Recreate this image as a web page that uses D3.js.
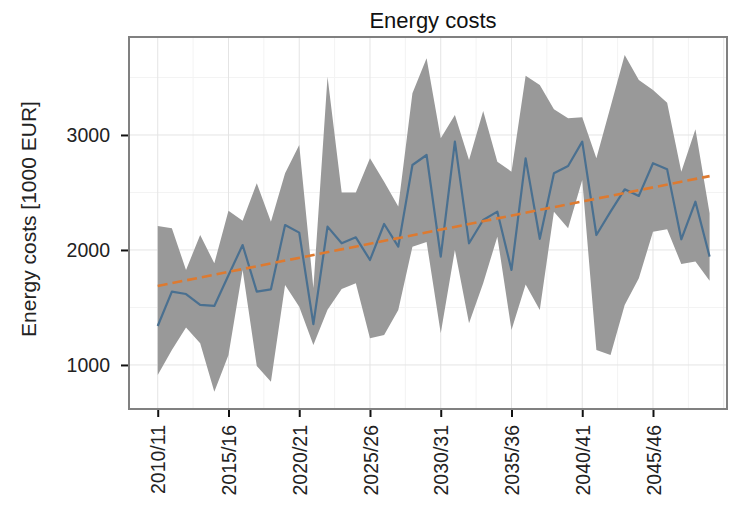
<!DOCTYPE html>
<html>
<head>
<meta charset="utf-8">
<script src="https://cdn.jsdelivr.net/npm/d3@7"></script>
<style>
  html, body { margin: 0; padding: 0; background: #ffffff; }
  svg { display: block; font-family: "Liberation Sans", Arial, sans-serif; }
</style>
</head>
<body>
<svg id="chart" width="731" height="508"></svg>
<script>
// Seasons on the x axis
const seasons = [
  "2010/11","2011/12","2012/13","2013/14","2014/15","2015/16","2016/17","2017/18",
  "2018/19","2019/20","2020/21","2021/22","2022/23","2023/24","2024/25","2025/26",
  "2026/27","2027/28","2028/29","2029/30","2030/31","2031/32","2032/33","2033/34",
  "2034/35","2035/36","2036/37","2037/38","2038/39","2039/40","2040/41","2041/42",
  "2042/43","2043/44","2044/45","2045/46","2046/47","2047/48","2048/49","2049/50"
];

// Mean energy costs per season [1000 EUR]
const meanCost = [
  1339, 1638, 1617, 1522, 1513, 1780, 2043, 1638, 1658, 2217,
  2151, 1355, 2203, 2058, 2110, 1913, 2226, 2029, 2739, 2826,
  1942, 2942, 2058, 2261, 2333, 1826, 2797, 2097, 2667, 2730,
  2942, 2130, 2333, 2527, 2470, 2754, 2701, 2093, 2420, 1942
];

// Upper and lower bounds of the spread
const upperCost = [
  2209, 2188, 1826, 2130, 1884, 2342, 2255, 2580, 2246, 2667,
  2913, 1670, 3507, 2499, 2499, 2797, 2594, 2377, 3362, 3667,
  2971, 3174, 2783, 3209, 2768, 2681, 3515, 3435, 3223, 3145,
  3154, 2797, 3246, 3696, 3478, 3391, 3281, 2681, 3049, 2319
];
const lowerCost = [
   913, 1130, 1325, 1188,  768, 1087, 1826,  991,  855, 1696,
  1507, 1174, 1480, 1660, 1710, 1232, 1261, 1478, 2029, 2070,
  1275, 2000, 1362, 1710, 2116, 1304, 1700, 1478, 2333, 2188,
  2609, 1130, 1087, 1522, 1754, 2159, 2180, 1878, 1899, 1733
];

// Linear trend: value at first and last season
const trendSeasons = ["2010/11", "2049/50"];
const trendCost = [1687, 2642];

// Axis ticks
const xTickLabels = ["2010/11","2015/16","2020/21","2025/26","2030/31","2035/36","2040/41","2045/46"];
const yTickValues = [1000, 2000, 3000];
const yMinorValues = [1500, 2500, 3500];

const svg = d3.select("#chart");
const plot = { left: 129, top: 37, right: 727, bottom: 409 };

const x = d3.scaleLinear().domain([-2.03, 40.23]).range([plot.left, plot.right]);
const y = d3.scaleLinear().domain([617, 3852]).range([plot.bottom, plot.top]);
const xi = s => x(seasons.indexOf(s));

// Grid
const grid = svg.append("g");
const xMajor = xTickLabels.map(s => seasons.indexOf(s)).concat([40]);
const xMinor = xMajor.map(i => i + 2.5).filter(v => v < 40.2);
grid.selectAll(".vminor").data(xMinor).join("line")
  .attr("x1", d => x(d)).attr("x2", d => x(d))
  .attr("y1", plot.top).attr("y2", plot.bottom)
  .attr("stroke", "#f3f3f3").attr("stroke-width", 1);
grid.selectAll(".hminor").data(yMinorValues).join("line")
  .attr("x1", plot.left).attr("x2", plot.right)
  .attr("y1", d => y(d)).attr("y2", d => y(d))
  .attr("stroke", "#f3f3f3").attr("stroke-width", 1);
grid.selectAll(".vmajor").data(xMajor).join("line")
  .attr("x1", d => x(d)).attr("x2", d => x(d))
  .attr("y1", plot.top).attr("y2", plot.bottom)
  .attr("stroke", "#e4e4e4").attr("stroke-width", 1);
grid.selectAll(".hmajor").data(yTickValues).join("line")
  .attr("x1", plot.left).attr("x2", plot.right)
  .attr("y1", d => y(d)).attr("y2", d => y(d))
  .attr("stroke", "#e4e4e4").attr("stroke-width", 1);

// Spread band
const rows = seasons.map((s, i) => ({ s, mean: meanCost[i], lo: lowerCost[i], hi: upperCost[i] }));
svg.append("path").datum(rows)
  .attr("d", d3.area().x(d => xi(d.s)).y0(d => y(d.lo)).y1(d => y(d.hi)))
  .attr("fill", "#999999");

// Mean line
svg.append("path").datum(rows)
  .attr("d", d3.line().x(d => xi(d.s)).y(d => y(d.mean)))
  .attr("fill", "none").attr("stroke", "#4a7090").attr("stroke-width", 2.2)
  .attr("stroke-linejoin", "round");

// Trend line
svg.append("path").datum(trendSeasons.map((s, i) => ({ s, v: trendCost[i] })))
  .attr("d", d3.line().x(d => xi(d.s)).y(d => y(d.v)))
  .attr("fill", "none").attr("stroke", "#dd7a30").attr("stroke-width", 2.6)
  .attr("stroke-dasharray", "10,5");

// Frame
svg.append("rect")
  .attr("x", plot.left).attr("y", plot.top)
  .attr("width", plot.right - plot.left).attr("height", plot.bottom - plot.top)
  .attr("fill", "none").attr("stroke", "#808080").attr("stroke-width", 2);

// X axis
const xAxis = svg.append("g").attr("transform", `translate(0,${plot.bottom + 1})`)
  .call(d3.axisBottom(x)
    .tickValues(xTickLabels.map(s => seasons.indexOf(s)))
    .tickFormat(i => seasons[i])
    .tickSize(7).tickSizeOuter(0));
xAxis.select(".domain").remove();
xAxis.selectAll(".tick line").attr("stroke", "#111").attr("stroke-width", 2);
xAxis.selectAll(".tick text")
  .attr("transform", "rotate(-90)")
  .attr("x", -15).attr("y", 0).attr("dy", "0.36em")
  .attr("text-anchor", "end")
  .attr("fill", "#222").style("font-size", "19.5px");

// Y axis
const yAxis = svg.append("g").attr("transform", `translate(${plot.left - 1},0)`)
  .call(d3.axisLeft(y).tickValues(yTickValues).tickFormat(d3.format("d"))
    .tickSize(7).tickSizeOuter(0));
yAxis.select(".domain").remove();
yAxis.selectAll(".tick line").attr("stroke", "#111").attr("stroke-width", 2);
yAxis.selectAll(".tick text")
  .attr("x", -18).attr("fill", "#222").style("font-size", "19.5px");

// Title
svg.append("text")
  .attr("x", (plot.left + plot.right) / 2 + 5).attr("y", 28)
  .attr("text-anchor", "middle").attr("fill", "#111")
  .style("font-size", "22px").text("Energy costs");

// Y axis title
svg.append("text")
  .attr("transform", `translate(36,${(plot.top + plot.bottom) / 2 - 4}) rotate(-90)`)
  .attr("text-anchor", "middle").attr("fill", "#222")
  .style("font-size", "21px").text("Energy costs [1000 EUR]");
</script>
</body>
</html>
